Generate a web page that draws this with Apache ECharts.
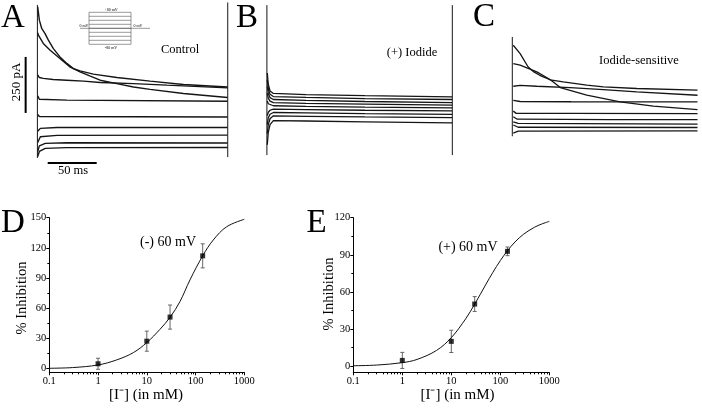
<!DOCTYPE html>
<html><head><meta charset="utf-8">
<script src="https://cdn.jsdelivr.net/npm/echarts@6.0.0/dist/echarts.min.js"></script>
<style>html,body{margin:0;padding:0;background:#fff}#c{width:702px;height:409px}</style>
</head><body><div id="c"></div>
<script>
// ---- Panel A: control current traces, [time ms, current pA] ----
const controlTraces = [
  [[0.3,675],[2,616],[4.4,579],[7.8,556],[11.2,527],[16.3,489],[23,452],[30,423],[36.7,400],[43.5,390],[57,375],[81,360],[115,344],[149,329],[194,318]],
  [[0.3,560],[1,549],[6,512],[13,482],[23,445],[33,408],[43.5,385],[54,366],[64,348],[81,333],[98,318],[115,307],[149,289],[194,271]],
  [[0.3,372],[2,360],[6,356],[16,351],[30,348],[47,344],[64,338],[98,333],[132,326],[194,314]],
  [[0.3,278],[2,263],[30,259],[194,254]],
  [[0.3,195],[2,186],[100,185],[194,184]],
  [[0.3,120],[3,133],[20,137],[194,137]],
  [[0.3,70],[3,96],[20,102],[194,103]],
  [[0.3,30],[2,55],[8,66],[30,69],[194,68]],
  [[0.3,8],[2,30],[8,44],[30,47],[194,48]]
];
// ---- Panel B: (+) iodide traces ----
const iodideTraces = [
  [[0.4,380],[1.4,330],[3.2,300],[6.6,289],[40,284],[100,279],[189,274]],
  [[0.4,350],[1.4,310],[3.2,285],[6.6,275],[40,271],[100,266],[189,262]],
  [[0.4,320],[1.4,290],[3.2,270],[6.6,262],[40,258],[100,253],[189,248]],
  [[0.4,290],[1.4,268],[3.2,255],[6.6,248],[40,245],[100,241],[189,237]],
  [[0.4,255],[1.4,243],[3.2,237],[6.6,234],[40,231],[100,228],[189,225]],
  [[0.4,190],[1.4,205],[3.2,214],[6.6,219],[40,217],[100,214],[189,211]],
  [[0.4,150],[1.4,180],[3.2,196],[6.6,204],[40,202],[100,199],[189,196]],
  [[0.4,110],[1.4,150],[3.2,176],[6.6,189],[40,187],[100,184],[189,181]],
  [[0.4,60],[1.4,115],[3.2,150],[6.6,168],[40,166],[100,162],[189,158]]
];
// ---- Panel C: iodide-sensitive traces ----
const sensitiveTraces = [
  [[1,504],[8,467],[16,408],[22,385],[28,370],[38.5,350],[52,341],[76,326],[93,318],[127,311],[189,304]],
  [[1,422],[8,415],[25,385],[38.5,351],[49,315],[76,281],[110,251],[144,232],[189,217]],
  [[1,321],[8,325],[25,321],[59,315],[93,306],[127,296],[189,281]],
  [[1,258],[8,253],[60,252],[189,251]],
  [[1,210],[4,200],[60,200],[189,199]],
  [[1,185],[5,174],[100,172],[189,172]],
  [[1,162],[6,155],[189,152]],
  [[1,148],[6,138],[189,137]],
  [[1,112],[6,121],[189,122]]
];
// frame/edge lines [time, pA]
const edgeA = [[[0,1],[0,684]], [[194.2,5],[194.2,695]]];
const edgeB = [[[0,14],[0,683]], [[189.2,14],[189.2,683]]];
const edgeC = [[[0,98],[0,541]]];
const scaleBarCurrent = [[-12,202],[-12,452]];   // 250 pA
const scaleBarTime = [[10.5,-21],[60.5,-21]];    // 50 ms
// voltage protocol (mV)
const protocolLevels = [-80,-60,-40,-20,0,20,40,60,80];
const protocolStep = [9, 51];
const protocolSpan = [0, 70];
// ---- Panel D: (-) 60 mV dose-response ----
const concD = [1, 10, 30, 140];
const inhD = [4.5, 27, 51, 112];
const errD = [5.5, 10, 12, 12];
const fitXD = [0.1,0.3,1,2.4,5.3,10,18.6,30,47.8,76.8,140,231,434,1000];
const fitYD = [0,0.7,3.3,8.3,15.6,25.6,38.8,50.8,66.4,88,112,127.8,141,148.4];
// ---- Panel E: (+) 60 mV dose-response ----
const concE = [1, 10, 30, 140];
const inhE = [4.6, 20, 50.2, 92.8];
const errE = [6.5, 9, 6, 3.5];
const fitXE = [0.1,0.3,1,2,5,10,20,30,50,70,100,140,200,300,500,700,1000];
const fitYE = [0.3,0.85,2.8,5.4,12.7,23,38.7,50.1,65.6,75.6,85.3,93.3,100.4,106.7,112.3,114.9,117];
// axis ticks
const yTicksD = [0,30,60,90,120,150];
const yMinorD = [15,45,75,105,135];
const yTicksE = [0,30,60,90,120];
const yMinorE = [15,45,75,105];
const xMinorConc = [0.2,0.3,0.4,0.5,0.6,0.7,0.8,0.9,2,3,4,5,6,7,8,9,20,30,40,50,60,70,80,90,200,300,400,500,600,700,800,900];

const SERIF = "'Liberation Serif','Times New Roman',serif";
const chart = echarts.init(document.getElementById('c'), null, {renderer:'canvas'});

function line(data, xi, yi, w, color) {
  return {type:'line', xAxisIndex:xi, yAxisIndex:yi, data:data, symbol:'none', showSymbol:false,
    silent:true, clip:false, animation:false, lineStyle:{color:color||'#151515', width:w||1.2}};
}
const series = [];
controlTraces.forEach(t => series.push(line(t,0,0,1.4)));
edgeA.forEach(t => series.push(line(t,0,0,1)));
series.push(line(scaleBarCurrent,0,0,2,'#000'));
series.push(line(scaleBarTime,0,0,2,'#000'));
iodideTraces.forEach(t => series.push(line(t,1,1,1.3)));
edgeB.forEach(t => series.push(line(t,1,1,1)));
sensitiveTraces.forEach(t => series.push(line(t,2,2,1.3)));
edgeC.forEach(t => series.push(line(t,2,2,1)));
protocolLevels.forEach(v => series.push(line([[protocolStep[0],v],[protocolStep[1],v]],3,3,0.6,'#555')));
series.push(line([[protocolSpan[0],0],[protocolSpan[1],0]],3,3,0.6,'#555'));
series.push(line([[protocolStep[0],-80],[protocolStep[0],80]],3,3,0.6,'#555'));
series.push(line([[protocolStep[1],-80],[protocolStep[1],80]],3,3,0.6,'#555'));

function doseSeries(cx, cy, ce, fx, fy, xi, yi) {
  series.push({type:'line', xAxisIndex:xi, yAxisIndex:yi, data:fx.map((x,i)=>[x,fy[i]]), smooth:0.35,
    symbol:'none', silent:true, lineStyle:{color:'#111', width:1}});
  series.push({type:'custom', xAxisIndex:xi, yAxisIndex:yi, silent:true,
    data: cx.map((x,i)=>[x, cy[i], ce[i]]),
    renderItem: function(params, api){
      const x = api.value(0), y = api.value(1), e = api.value(2);
      const top = api.coord([x, y+e]), bot = api.coord([x, y-e]);
      const st = {stroke:'#666', lineWidth:1};
      return {type:'group', children:[
        {type:'line', shape:{x1:top[0],y1:top[1],x2:bot[0],y2:bot[1]}, style:st},
        {type:'line', shape:{x1:top[0]-2,y1:top[1],x2:top[0]+2,y2:top[1]}, style:st},
        {type:'line', shape:{x1:bot[0]-2,y1:bot[1],x2:bot[0]+2,y2:bot[1]}, style:st}
      ]};
    }});
  series.push({type:'scatter', xAxisIndex:xi, yAxisIndex:yi, data: cx.map((x,i)=>[x,cy[i]]),
    symbol:'rect', symbolSize:5, itemStyle:{color:'#000'}, silent:true, z:5});
}
doseSeries(concD, inhD, errD, fitXD, fitYD, 4, 4);
doseSeries(concE, inhE, errE, fitXE, fitYE, 5, 6);

const hiddenX = (gi,min,max)=>({type:'value', gridIndex:gi, min:min, max:max, show:false});
const hiddenY = (gi,min,max)=>({type:'value', gridIndex:gi, min:min, max:max, show:false});
const axisTxt = {color:'#000', fontFamily:SERIF, fontSize:10.5};
function logX(gi) {
  return {type:'log', logBase:10, gridIndex:gi, min:0.1, max:1000, position:'bottom',
    axisLine:{show:true, onZero:false, lineStyle:{color:'#000', width:1}},
    axisTick:{show:true, length:3, lineStyle:{color:'#000'}},
    minorTick:{show:false},
    splitLine:{show:false}, minorSplitLine:{show:false},
    axisLabel:Object.assign({margin:3.5, formatter:v=>String(parseFloat(Number(v).toPrecision(4)))}, axisTxt)};
}
// minor log ticks, placed on a companion axis in decades
function minorX(gi) {
  return {type:'value', gridIndex:gi, min:-1, max:3, position:'bottom',
    axisLine:{show:false, onZero:false}, splitLine:{show:false}, axisLabel:{show:false},
    axisTick:{show:true, length:2, customValues:xMinorConc.map(Math.log10), lineStyle:{color:'#000'}}};
}
function valY(gi, min, max, ticks) {
  return {type:'value', gridIndex:gi, min:min, max:max, position:'left',
    axisLine:{show:true, onZero:false, lineStyle:{color:'#000', width:1}},
    axisTick:{show:true, length:3, customValues:ticks, lineStyle:{color:'#000'}},
    splitLine:{show:false},
    axisLabel:Object.assign({margin:3, customValues:ticks}, axisTxt)};
}
function minorY(gi, min, max, ticks) {
  return {type:'value', gridIndex:gi, min:min, max:max, position:'left',
    axisLine:{show:false, onZero:false}, splitLine:{show:false},
    axisTick:{show:true, length:2, customValues:ticks, lineStyle:{color:'#000'}},
    axisLabel:{show:false}};
}

function txt(text, x, y, size, opts) {
  return Object.assign({type:'text', x:x, y:y, silent:true,
    style:{text:text, font: size+'px '+SERIF, fill:'#000', align:'center', verticalAlign:'middle'}}, opts||{});
}

chart.setOption({
  animation:false,
  backgroundColor:'#fff',
  grid:[
    {left:8, top:0, width:222, height:175, outerBoundsMode:'none'},
    {left:262, top:0, width:191.1, height:175, outerBoundsMode:'none'},
    {left:507.4, top:0, width:191.1, height:175, outerBoundsMode:'none'},
    {left:80, top:8.3, width:70, height:40, outerBoundsMode:'none'},
    {left:49.3, top:217.7, width:195, height:154.6, outerBoundsMode:'none'},
    {left:353.3, top:217.7, width:196, height:154.6, outerBoundsMode:'none'}
  ],
  xAxis:[hiddenX(0,-30,196.5), hiddenX(1,-5,190), hiddenX(2,-5,190), hiddenX(3,0,70), logX(4), logX(5), minorX(4), minorX(5)],
  yAxis:[hiddenY(0,-75,706), hiddenY(1,-75,706), hiddenY(2,-75,706), hiddenY(3,-100,100),
    valY(4,-4,150,yTicksD), minorY(4,-4,150,yMinorD), valY(5,-5,120,yTicksE), minorY(5,-5,120,yMinorE)],
  series: series,
  graphic: [
    txt('A', 13, 18, 33), txt('B', 247, 18, 33), txt('C', 484, 17, 33),
    txt('D', 13, 223, 33), txt('E', 316.5, 223, 33),
    txt('Control', 180, 50, 12.5), txt('(+) Iodide', 412, 53, 12.5), txt('Iodide-sensitive', 639, 61, 12.5),
    txt('250 pA', 17, 82, 13, {rotation:Math.PI/2}),
    txt('50 ms', 73, 171, 12.5),
    txt('(-) 60 mV', 168, 242, 14), txt('(+) 60 mV', 468, 247, 14),
    txt('% Inhibition', 22.5, 298, 14.5, {rotation:Math.PI/2}),
    txt('% Inhibition', 329, 294, 14.5, {rotation:Math.PI/2}),
    txt('[I\u207B] (in mM)', 146, 395, 15), txt('[I\u207B] (in mM)', 457.5, 395, 15),
    txt('+80 mV', 111, 9.5, 4), txt('-80 mV', 111, 47.5, 4),
    txt('0 mV', 84, 25.5, 4), txt('0 mV', 138, 25.5, 4)
  ]
});
</script>
</body></html>
